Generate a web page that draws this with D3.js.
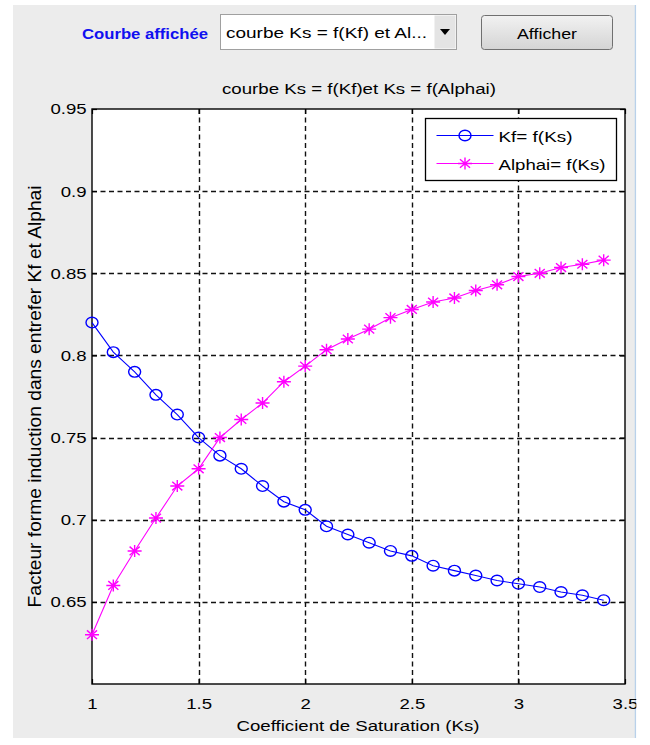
<!DOCTYPE html>
<html lang="fr">
<head>
<meta charset="UTF-8">
<title>courbe Ks = f(Kf) et Ks = f(Alphai)</title>
<script src="https://cdn.jsdelivr.net/npm/d3@7"></script>
<style>
  body { margin: 0; background: #fff; }
  svg { display: block; font-family: "Liberation Sans", Arial, sans-serif; }
</style>
</head>
<body>
<svg width="650" height="745"></svg>
<script>
    const ks = [1.0, 1.1, 1.2, 1.3, 1.4, 1.5, 1.6, 1.7, 1.8, 1.9, 2.0, 2.1, 2.2,
                2.3, 2.4, 2.5, 2.6, 2.7, 2.8, 2.9, 3.0, 3.1, 3.2, 3.3, 3.4];
    const kf = [0.820, 0.802, 0.790, 0.776, 0.764, 0.750, 0.739, 0.731, 0.7205, 0.711,
                0.706, 0.696, 0.691, 0.686, 0.681, 0.678, 0.672, 0.669, 0.666, 0.663,
                0.661, 0.659, 0.656, 0.654, 0.651];
    const alphai = [0.630, 0.660, 0.681, 0.701, 0.7205, 0.731, 0.750, 0.761, 0.771, 0.784,
                    0.7935, 0.8035, 0.810, 0.816, 0.823, 0.828, 0.8325, 0.835, 0.8395, 0.843,
                    0.848, 0.850, 0.8535, 0.8555, 0.858];
    const xTicks = [1, 1.5, 2, 2.5, 3, 3.5];
    const yTicks = [0.65, 0.7, 0.75, 0.8, 0.85, 0.9, 0.95];
    const seriesNames = ['Kf= f(Ks)', 'Alphai= f(Ks)'];

    const margin = {top: 109, left: 92, bottom: 61, right: 25};
    const width = 650, height = 745;
    const x = d3.scaleLinear().domain([1, 3.5]).range([margin.left, width - margin.right]);
    const y = d3.scaleLinear().domain([0.6, 0.95]).range([height - margin.bottom, margin.top]);
    const fs = 15.5, sx = 1.2;   // text looks a bit wide in the screenshot

    const svg = d3.select('svg');

    // window background
    svg.append('rect').attr('x', 13).attr('y', 5).attr('width', 622).attr('height', 733).attr('fill', '#ececec');
    svg.append('line').attr('x1', 635.5).attr('x2', 635.5).attr('y1', 5).attr('y2', 738)
        .attr('stroke', '#b9d1ea').attr('stroke-width', 1.5);

    // controls
    svg.append('text').attr('x', 82).attr('y', 39).attr('fill', '#1010f0')
        .attr('font-weight', 'bold').attr('font-size', 15.5)
        .attr('textLength', 126).attr('lengthAdjust', 'spacingAndGlyphs')
        .text('Courbe affichée');
    svg.append('rect').attr('x', 220.5).attr('y', 14.5).attr('width', 236).attr('height', 35)
        .attr('fill', '#fff').attr('stroke', '#a0a0a0');
    svg.append('rect').attr('x', 434.5).attr('y', 15.5).attr('width', 21).attr('height', 33)
        .attr('fill', '#e4e4e4');
    svg.append('path').attr('d', 'M440,29 L450,29 L445,35 Z').attr('fill', '#000');
    svg.append('text').attr('x', 226).attr('y', 38).attr('font-size', fs)
        .attr('textLength', 201).attr('lengthAdjust', 'spacingAndGlyphs')
        .text('courbe Ks = f(Kf) et Al...');
    const btnGrad = svg.append('defs').append('linearGradient').attr('id', 'btn')
        .attr('x1', 0).attr('x2', 0).attr('y1', 0).attr('y2', 1);
    btnGrad.append('stop').attr('offset', 0).attr('stop-color', '#f2f2f2');
    btnGrad.append('stop').attr('offset', 1).attr('stop-color', '#d4d4d4');
    svg.append('rect').attr('x', 481.5).attr('y', 15.5).attr('width', 131).attr('height', 34)
        .attr('rx', 3).attr('fill', 'url(#btn)').attr('stroke', '#707070');
    svg.append('text').attr('x', 517).attr('y', 39).attr('font-size', fs)
        .attr('textLength', 60).attr('lengthAdjust', 'spacingAndGlyphs').text('Afficher');

    // title
    svg.append('text').attr('x', 359).attr('y', 94).attr('text-anchor', 'middle')
        .attr('font-size', fs).attr('textLength', 274).attr('lengthAdjust', 'spacingAndGlyphs')
        .text('courbe Ks = f(Kf)et Ks = f(Alphai)');

    // plot area
    const pw = x(3.5) - x(1), ph = y(0.6) - y(0.95);
    svg.append('rect').attr('x', x(1)).attr('y', y(0.95)).attr('width', pw).attr('height', ph).attr('fill', '#fff');

    // grid
    const grid = svg.append('g').attr('stroke', '#111').attr('stroke-width', 1.4).attr('stroke-dasharray', '5,3.5');
    grid.selectAll('.gx').data(xTicks.slice(1, -1)).join('line')
        .attr('x1', d => Math.round(x(d)) + 0.5).attr('x2', d => Math.round(x(d)) + 0.5)
        .attr('y1', y(0.95)).attr('y2', y(0.6));
    grid.selectAll('.gy').data(yTicks.slice(0, -1)).join('line')
        .attr('y1', d => Math.round(y(d)) + 0.5).attr('y2', d => Math.round(y(d)) + 0.5)
        .attr('x1', x(1)).attr('x2', x(3.5));

    // axes: inward ticks on all four sides
    const fmt = d => String(d);
    const styleText = g => g.selectAll('text').attr('font-size', fs).attr('fill', '#000')
        .attr('font-family', '"Liberation Sans", Arial, sans-serif').attr('transform', `scale(${sx},1)`);
    svg.append('g').attr('transform', `translate(0,${y(0.6)})`)
        .call(d3.axisBottom(x).tickValues(xTicks).tickFormat(fmt).tickSizeInner(-5).tickSizeOuter(0).tickPadding(14))
        .call(styleText);
    svg.append('g').attr('transform', `translate(0,${y(0.95)})`)
        .call(d3.axisTop(x).tickValues(xTicks).tickFormat('').tickSizeInner(-5).tickSizeOuter(0));
    svg.append('g').attr('transform', `translate(${x(1)},0)`)
        .call(d3.axisLeft(y).tickValues(yTicks).tickFormat(fmt).tickSizeInner(-5).tickSizeOuter(0).tickPadding(4.5))
        .call(styleText);
    svg.append('g').attr('transform', `translate(${x(3.5)},0)`)
        .call(d3.axisRight(y).tickValues(yTicks).tickFormat('').tickSizeInner(-5).tickSizeOuter(0));
    svg.selectAll('.domain').remove();
    svg.selectAll('.tick line').attr('stroke', '#000').attr('stroke-width', 1.2);
    svg.append('rect').attr('x', x(1)).attr('y', y(0.95)).attr('width', pw).attr('height', ph)
        .attr('fill', 'none').attr('stroke', '#000').attr('stroke-width', 1.4);

    // axis labels
    svg.append('text').attr('x', 358).attr('y', 731).attr('text-anchor', 'middle')
        .attr('font-size', fs).attr('textLength', 243).attr('lengthAdjust', 'spacingAndGlyphs')
        .text('Coefficient de Saturation (Ks)');
    svg.append('text').attr('transform', `translate(41,${(y(0.95) + y(0.6)) / 2}) rotate(-90) scale(1,${sx})`)
        .attr('text-anchor', 'middle').attr('font-size', fs)
        .attr('textLength', 422).attr('lengthAdjust', 'spacingAndGlyphs')
        .text('Facteur forme induction dans entrefer Kf et Alphai');

    // cover the part of "3.5" beyond the window edge
    svg.append('rect').attr('x', 636.3).attr('y', 0).attr('width', 14).attr('height', 745).attr('fill', '#fff');

    // series
    const blue = '#0000ff', magenta = '#ff00ff';
    const line = d3.line().x((d, i) => x(ks[i])).y(d => y(d));
    svg.append('path').datum(kf).attr('d', line).attr('fill', 'none').attr('stroke', blue).attr('stroke-width', 1.1);
    svg.append('path').datum(alphai).attr('d', line).attr('fill', 'none').attr('stroke', magenta).attr('stroke-width', 1.1);

    const circleMark = (g, cx, cy) => g.append('ellipse').attr('cx', cx).attr('cy', cy).attr('rx', 6).attr('ry', 5.3)
        .attr('fill', 'none').attr('stroke', blue).attr('stroke-width', 1.4);
    const starMark = (g, cx, cy) => {
        const rx = 7, ry = 6, dx = rx * 0.72, dy = ry * 0.72;
        g.append('path')
            .attr('d', `M${cx - rx},${cy}H${cx + rx}M${cx},${cy - ry}V${cy + ry}M${cx - dx},${cy - dy}L${cx + dx},${cy + dy}M${cx - dx},${cy + dy}L${cx + dx},${cy - dy}`)
            .attr('stroke', magenta).attr('stroke-width', 1.4);
    };
    const marks = svg.append('g');
    kf.forEach((v, i) => circleMark(marks, x(ks[i]), y(v)));
    alphai.forEach((v, i) => starMark(marks, x(ks[i]), y(v)));

    // legend
    const lg = svg.append('g').attr('transform', 'translate(425.5,118.5)');
    lg.append('rect').attr('width', 191).attr('height', 62).attr('fill', '#fff').attr('stroke', '#000').attr('stroke-width', 1.3);
    const colors = [blue, magenta];
    const lens = [74, 107];
    seriesNames.forEach((name, i) => {
        const ly = 17 + i * 28;
        lg.append('line').attr('x1', 11).attr('x2', 68).attr('y1', ly).attr('y2', ly)
            .attr('stroke', colors[i]).attr('stroke-width', 1.1);
        if (i === 0) circleMark(lg, 39.5, ly);
        else starMark(lg, 39.5, ly);
        lg.append('text').attr('x', 73).attr('y', ly + 6).attr('font-size', fs)
            .attr('textLength', lens[i]).attr('lengthAdjust', 'spacingAndGlyphs').text(name);
    });
</script>
</body>
</html>
